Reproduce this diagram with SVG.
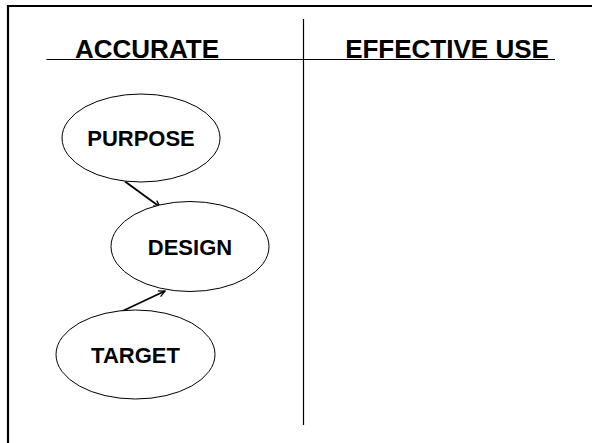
<svg xmlns="http://www.w3.org/2000/svg" width="592" height="443" viewBox="0 0 592 443">
<defs>
<style>
.t{font-family:"Liberation Sans",Arial,sans-serif;font-weight:bold;fill:#000;text-anchor:middle}
.h{font-size:26px}
.n{font-size:22px}
.e{fill:#fff;stroke:#000;stroke-width:1}
.ln{stroke:#000;fill:none}
</style>
<marker id="arr" viewBox="0 0 10 10" refX="9" refY="5" markerWidth="8" markerHeight="8" markerUnits="userSpaceOnUse" orient="auto">
<path d="M1,1 L9,5 L1,9" fill="none" stroke="#000" stroke-width="1.6"/>
</marker>
</defs>
<rect width="592" height="443" fill="#fff"/>
<g id="frame">
<path class="ln" d="M8,443 V6 H592" stroke-width="2.2"/>
<line class="ln" x1="46.5" y1="59.5" x2="555" y2="59.5" stroke-width="1.2"/>
<line class="ln" x1="303.5" y1="19" x2="303.5" y2="425" stroke-width="1.2"/>
</g>
<g id="headers">
<text class="t h" x="147" y="58">ACCURATE</text>
<text class="t h" x="447" y="58">EFFECTIVE USE</text>
</g>
<g id="connectors">
<line class="ln" x1="125" y1="181.5" x2="160" y2="207" stroke-width="1.8" marker-end="url(#arr)"/>
<line class="ln" x1="121.5" y1="311.5" x2="165" y2="291" stroke-width="1.8" marker-end="url(#arr)"/>
</g>
<g id="purpose">
<ellipse class="e" cx="141" cy="138" rx="79" ry="44"/>
<text class="t n" x="141" y="146">PURPOSE</text>
</g>
<g id="design">
<ellipse class="e" cx="190" cy="246.5" rx="79" ry="45"/>
<text class="t n" x="190" y="255">DESIGN</text>
</g>
<g id="target">
<ellipse class="e" cx="135.5" cy="354.5" rx="79.5" ry="44.5"/>
<text class="t n" x="135.5" y="363">TARGET</text>
</g>
</svg>
